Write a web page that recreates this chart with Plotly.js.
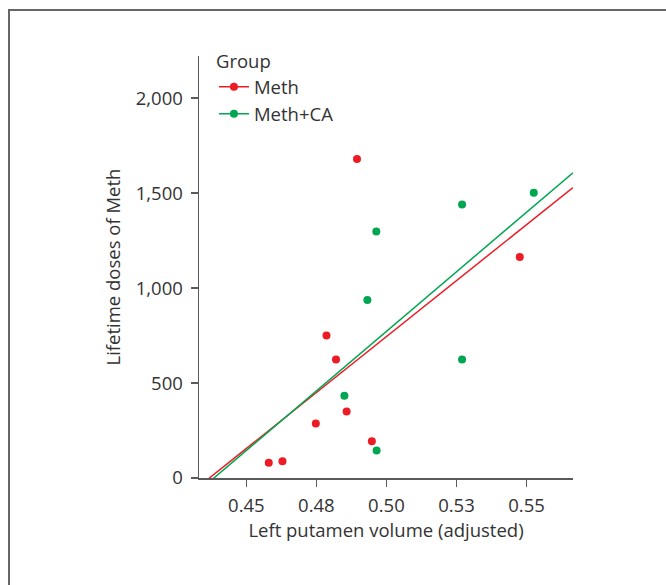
<!DOCTYPE html>
<html>
<head>
<meta charset="utf-8">
<script src="https://cdn.plot.ly/plotly-3.0.1.min.js"></script>
<style>
  html, body { margin: 0; padding: 0; background: #fff; }
  #wrap { position: relative; width: 666px; height: 585px; overflow: hidden; }
  #chart { position: absolute; left: 0; top: 0; width: 666px; height: 585px; }
  #frame { position: absolute; left: 8px; top: 9px; width: 700px; height: 700px;
           border-left: 2px solid #666; border-top: 2px solid #666; pointer-events: none; }
</style>
</head>
<body>
<div id="wrap">
  <div id="chart"></div>
  <div id="frame"></div>
</div>
<script>
// Data
const methX = [0.4895, 0.5476, 0.4786, 0.4820, 0.4858, 0.4748, 0.4948, 0.4580, 0.4629];
const methY = [1680, 1163, 750, 624, 350, 287, 193, 80, 88];
const methCaX = [0.4964, 0.5270, 0.5526, 0.4932, 0.5270, 0.4850, 0.4965];
const methCaY = [1298, 1440, 1502, 937, 624, 433, 145];

const xTickVals = [0.45, 0.475, 0.50, 0.525, 0.55];
const xTickText = ['0.45', '0.48', '0.50', '0.53', '0.55'];
const yTickVals = [0, 500, 1000, 1500, 2000];

const groupNames = ['Meth', 'Meth+CA'];
const xRange = [0.4331, 0.5666];
const yRange = [0, 2222];

const RED = '#ED1C24';
const GREEN = '#00A651';

function fit(xs, ys) {
  const n = xs.length;
  const mx = xs.reduce((a, b) => a + b, 0) / n;
  const my = ys.reduce((a, b) => a + b, 0) / n;
  let sxy = 0, sxx = 0;
  for (let i = 0; i < n; i++) { sxy += (xs[i] - mx) * (ys[i] - my); sxx += (xs[i] - mx) ** 2; }
  const b = sxy / sxx;
  const a = my - b * mx;
  return { x: xRange.slice(), y: xRange.map(v => a + b * v) };
}

const fm = fit(methX, methY);
const fc = fit(methCaX, methCaY);

const font = "'Open Sans', 'Noto Sans', sans-serif";
const FS = 18.5;

const traces = [
  { x: fm.x, y: fm.y, mode: 'lines', line: { color: RED, width: 1.5 }, showlegend: false, hoverinfo: 'skip' },
  { x: fc.x, y: fc.y, mode: 'lines', line: { color: GREEN, width: 1.5 }, showlegend: false, hoverinfo: 'skip' },
  { x: methX, y: methY, mode: 'markers', marker: { color: RED, size: 8 }, showlegend: false, cliponaxis: false },
  { x: methCaX, y: methCaY, mode: 'markers', marker: { color: GREEN, size: 8 }, showlegend: false, cliponaxis: false },
  // legend entries
  { x: [null], y: [null], mode: 'lines+markers', name: groupNames[0], line: { color: RED, width: 1.5 }, marker: { color: RED, size: 8 } },
  { x: [null], y: [null], mode: 'lines+markers', name: groupNames[1], line: { color: GREEN, width: 1.5 }, marker: { color: GREEN, size: 8 } }
];

const axisCommon = {
  showgrid: false, zeroline: false, showline: true,
  linecolor: '#5a5a5a', linewidth: 1.5,
  ticks: 'outside', ticklen: 7, tickwidth: 1.5, tickcolor: '#5a5a5a',
  tickfont: { family: font, size: FS, color: '#333' }
};

const layout = {
  width: 666, height: 585,
  margin: { l: 199, r: 93, t: 56, b: 107 },
  paper_bgcolor: 'rgba(0,0,0,0)', plot_bgcolor: 'rgba(0,0,0,0)',
  font: { family: font, size: FS, color: '#333' },
  xaxis: Object.assign({}, axisCommon, {
    range: xRange, tickmode: 'array', tickvals: xTickVals, ticktext: xTickText,
    ticklabelstandoff: 3,
    title: { text: 'Left putamen volume (adjusted)', font: { family: font, size: FS, color: '#333' }, standoff: 5 }
  }),
  yaxis: Object.assign({}, axisCommon, {
    range: yRange, tickmode: 'array', tickvals: yTickVals, tickformat: ',',
    ticklabelstandoff: 4,
    title: { text: 'Lifetime doses of Meth', font: { family: font, size: FS, color: '#333' }, standoff: 10 }
  }),
  showlegend: true,
  legend: {
    x: 0.04, y: 1.028, xanchor: 'left', yanchor: 'top',
    bgcolor: 'rgba(0,0,0,0)', borderwidth: 0,
    font: { family: font, size: FS, color: '#333' },
    title: { text: 'Group', font: { family: font, size: FS, color: '#333' } },
    tracegroupgap: 0
  }
};

Plotly.newPlot('chart', traces, layout, { staticPlot: true, displayModeBar: false });
</script>
</body>
</html>
